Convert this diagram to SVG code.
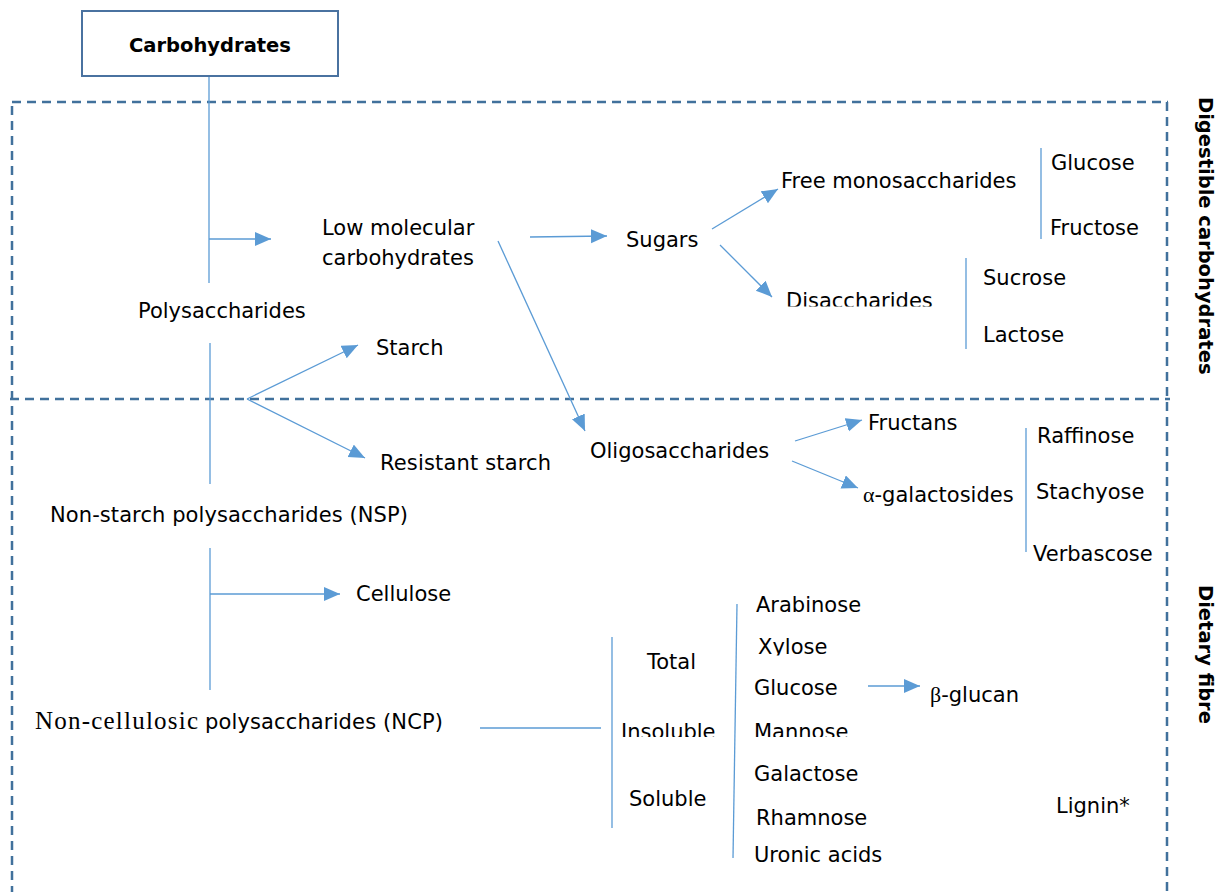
<svg xmlns="http://www.w3.org/2000/svg" width="1225" height="892" viewBox="0 0 1225 892">
  <defs>
    <style>
      .t { font-family: "DejaVu Sans", "Liberation Sans", sans-serif; font-size: 21px; fill: #000; }
      .b { font-family: "DejaVu Sans", "Liberation Sans", sans-serif; font-size: 19.5px; font-weight: bold; fill: #000; }
      .serif { font-family: "Liberation Serif", "DejaVu Serif", serif; fill: #000; }
      .ln { stroke: #5b9bd5; stroke-width: 1.3; fill: none; }
      .ar { stroke: #5b9bd5; stroke-width: 1.3; fill: none; marker-end: url(#ah); }
      .dash { stroke: #41719c; stroke-width: 2.5; fill: none; stroke-dasharray: 9 6; }
    </style>
    <marker id="ah" markerUnits="userSpaceOnUse" markerWidth="18" markerHeight="16" refX="16" refY="7" orient="auto">
      <path d="M0,0 L16,7 L0,14 Z" fill="#5b9bd5"/>
    </marker>
    <clipPath id="cDis"><rect x="770" y="280" width="180" height="26.5"/></clipPath>
    <clipPath id="cIns"><rect x="610" y="710" width="120" height="27"/></clipPath>
    <clipPath id="cXyl"><rect x="750" y="630" width="90" height="25.5"/></clipPath>
    <clipPath id="cMan"><rect x="745" y="710" width="110" height="27"/></clipPath>
  </defs>
  <rect width="1225" height="892" fill="#fff"/>

  <g id="regions">
    <path class="dash" d="M12,102 H1168"/>
    <path class="dash" d="M12,106 V892"/>
    <path class="dash" d="M1167,102 V892"/>
    <path class="dash" d="M10,399 H1170"/>
  </g>

  <g id="connectors">
    <path class="ln" d="M209,76 V283"/>
    <path class="ar" d="M209,239 H271"/>
    <path class="ar" d="M530,237 L607,236"/>
    <path class="ar" d="M712,229 L778,189"/>
    <path class="ar" d="M720,245 L772,297"/>
    <path class="ar" d="M498,241 L585,431"/>
    <path class="ln" d="M210,343 V484"/>
    <path class="ar" d="M247,399 L358,345"/>
    <path class="ar" d="M247,399 L365,458"/>
    <path class="ar" d="M795,441 L862,420"/>
    <path class="ar" d="M792,461 L858,488"/>
    <path class="ln" d="M210,548 V690"/>
    <path class="ar" d="M210,594 H340"/>
    <path class="ar" d="M868,686 H920"/>
    <path class="ln" d="M1041,148 V239"/>
    <path class="ln" d="M966,258 V349"/>
    <path class="ln" d="M1026,428 V552"/>
    <path class="ln" d="M480,728 H601"/>
    <path class="ln" d="M612,637 V828"/>
    <path class="ln" d="M737,604 L733,858"/>
  </g>

  <g id="carbohydrates">
    <rect x="82" y="11" width="256" height="65" fill="#fff" stroke="#4a72a0" stroke-width="2"/>
    <text class="b" x="210" y="52" text-anchor="middle">Carbohydrates</text>
  </g>
  <g id="low-molecular"><text class="t" x="322" y="235">Low molecular</text><text class="t" x="322" y="265">carbohydrates</text></g>
  <g id="sugars"><text class="t" x="626" y="247">Sugars</text></g>
  <g id="free-mono"><text class="t" x="781" y="188">Free monosaccharides</text></g>
  <g id="glucose-1"><text class="t" x="1051" y="170">Glucose</text></g>
  <g id="fructose"><text class="t" x="1050" y="235">Fructose</text></g>
  <g id="disaccharides"><text class="t" x="786" y="308" clip-path="url(#cDis)">Disaccharides</text></g>
  <g id="sucrose"><text class="t" x="983" y="285">Sucrose</text></g>
  <g id="lactose"><text class="t" x="983" y="342">Lactose</text></g>
  <g id="polysaccharides"><text class="t" x="138" y="318">Polysaccharides</text></g>
  <g id="starch"><text class="t" x="376" y="355">Starch</text></g>
  <g id="resistant-starch"><text class="t" x="380" y="470" textLength="171">Resistant starch</text></g>
  <g id="oligosaccharides"><text class="t" x="590" y="458">Oligosaccharides</text></g>
  <g id="fructans"><text class="t" x="868" y="430">Fructans</text></g>
  <g id="alpha-gal"><text class="t" x="863" y="502"><tspan class="serif" font-size="22">α</tspan>-galactosides</text></g>
  <g id="raffinose"><text class="t" x="1037" y="443">Raffinose</text></g>
  <g id="stachyose"><text class="t" x="1036" y="499">Stachyose</text></g>
  <g id="verbascose"><text class="t" x="1033" y="561">Verbascose</text></g>
  <g id="nsp"><text class="t" x="50" y="522" textLength="358">Non-starch polysaccharides (NSP)</text></g>
  <g id="cellulose"><text class="t" x="356" y="601">Cellulose</text></g>
  <g id="ncp">
    <text class="serif" x="35" y="729" font-size="25" textLength="163">Non-cellulosic</text>
    <text class="t" x="205" y="729" textLength="238">polysaccharides (NCP)</text>
  </g>
  <g id="total"><text class="t" x="647" y="669">Total</text></g>
  <g id="insoluble"><text class="t" x="621" y="739" clip-path="url(#cIns)">Insoluble</text></g>
  <g id="soluble"><text class="t" x="629" y="806">Soluble</text></g>
  <g id="arabinose"><text class="t" x="756" y="612">Arabinose</text></g>
  <g id="xylose"><text class="t" x="758" y="654" clip-path="url(#cXyl)">Xylose</text></g>
  <g id="glucose-2"><text class="t" x="754" y="695">Glucose</text></g>
  <g id="mannose"><text class="t" x="754" y="739" clip-path="url(#cMan)">Mannose</text></g>
  <g id="galactose"><text class="t" x="754" y="781">Galactose</text></g>
  <g id="rhamnose"><text class="t" x="756" y="825">Rhamnose</text></g>
  <g id="uronic"><text class="t" x="754" y="862">Uronic acids</text></g>
  <g id="beta-glucan"><text class="t" x="930" y="702"><tspan class="serif" font-size="22">β</tspan>-glucan</text></g>
  <g id="lignin"><text class="t" x="1056" y="813">Lignin*</text></g>
  <g id="label-digestible"><text class="b" transform="translate(1199,97) rotate(90)">Digestible carbohydrates</text></g>
  <g id="label-fibre"><text class="b" transform="translate(1199,585) rotate(90)">Dietary fibre</text></g>
</svg>
